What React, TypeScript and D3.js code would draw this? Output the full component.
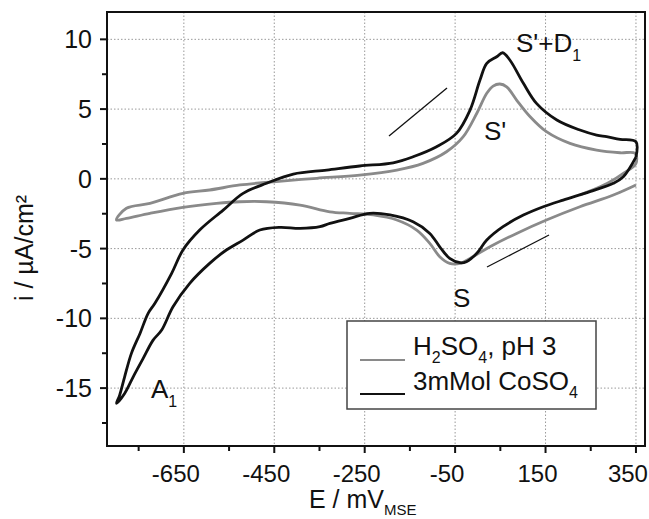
import React from "react";
import * as d3 from "d3";

// 3mMol CoSO4 (black curve)
const cosoE = [350, 322, 300, 248, 189, 145, 101, 56, 20, -2, -25, -39, -62, -84, -106, -143, -194, -239, -283, -327,
  -349, -393, -438, -482, -519, -556, -593, -637, -674, -699, -718, -740, -762, -781, -799,
  -792, -781, -766, -747, -729, -714, -677, -652, -615, -563, -519, -467, -408, -334, -261, -187,
  -143, -91, -47, -17, 5, 20, 42, 55, 71, 101, 130, 175, 226, 263, 285, 315, 350, 350];
const cosoI = [1.56, 0.15, -0.32, -0.92, -1.52, -2.0, -2.6, -3.43, -4.39, -5.34, -5.94, -6.01, -5.7, -4.87, -3.91, -3.08, -2.59, -2.47, -2.83, -3.19,
  -3.43, -3.55, -3.48, -3.67, -4.39, -5.1, -6.06, -7.49, -9.17, -10.84, -11.56, -12.87, -14.19, -15.38, -16.09,
  -15.5, -14.19, -12.51, -11.08, -9.64, -8.92, -6.77, -5.1, -3.67, -2.24, -1.04, -0.32, 0.34, 0.63, 0.92, 1.15,
  1.58, 2.3, 3.26, 4.93, 7.08, 8.28, 8.75, 9.04, 8.52, 6.85, 5.41, 4.22, 3.5, 3.14, 3.02, 2.83, 2.66, 1.56];

// H2SO4, pH 3 (gray curve)
const h2so4E = [350, 300, 226, 152, 86, 27, -17, -39, -62, -84, -106, -135, -179, -231, -283, -327,
  -393, -467, -526, -578, -652, -725, -777, -799,
  -777, -725, -652, -593, -526, -452, -356, -261, -179, -121, -69, -32, -2, 20, 34, 49, 64, 86, 116, 152, 204, 263, 315, 348,
  350, 322, 293, 263, 226];
const h2so4I = [-0.44, -1.16, -2.0, -2.95, -3.91, -4.87, -5.7, -6.06, -6.06, -5.58, -4.62, -3.67, -2.95, -2.59, -2.47, -2.36,
  -1.88, -1.64, -1.64, -1.76, -2.04, -2.47, -2.83, -2.95,
  -2.11, -1.76, -1.04, -0.8, -0.44, -0.21, 0.04, 0.27, 0.63, 1.11, 1.94, 3.02, 4.7, 6.13, 6.65, 6.8, 6.6, 5.65, 4.45, 3.38, 2.54, 2.06, 1.87, 1.83,
  1.11, 0.39, -0.21, -0.68, -1.16];

const xTicks = [-650, -450, -250, -50, 150, 350];
const xMinor = [-750, -550, -350, -150, 50, 250];
const yTicks = [-15, -10, -5, 0, 5, 10];
const yMinor = [-17.5, -12.5, -7.5, -2.5, 2.5, 7.5];

const W = 649, H = 519;
const L = 107, R = 645, T = 12, B = 446;
const FONT = "'Liberation Sans', Arial, Helvetica, sans-serif";

export default function App() {
  const x = d3.scaleLinear().domain([-820, 370]).range([L, R]);
  const y = d3.scaleLinear().domain([-19.15, 11.96]).range([B, T]);
  const line = d3.line<[number, number]>().x(d => x(d[0])).y(d => y(d[1])).curve(d3.curveCatmullRom.alpha(0.5));
  const coso: [number, number][] = cosoE.map((e, i) => [e, cosoI[i]]);
  const h2: [number, number][] = h2so4E.map((e, i) => [e, h2so4I[i]]);

  return (
    <svg width={W} height={H} style={{ position: "absolute", left: 0, top: 0, background: "#fff" }} fontFamily={FONT}>
      <rect x={0} y={0} width={W} height={H} fill="#fff" />
      {/* grid */}
      {xTicks.map(t => (
        <line key={"gx" + t} x1={x(t)} x2={x(t)} y1={T} y2={B} stroke="#999" strokeWidth={1} strokeDasharray="1.5,2" />
      ))}
      {yTicks.map(t => (
        <line key={"gy" + t} x1={L} x2={R} y1={y(t)} y2={y(t)} stroke="#999" strokeWidth={1} strokeDasharray="1.5,2" />
      ))}
      {/* curves */}
      <path d={line(h2) || ""} fill="none" stroke="#8a8a8a" strokeWidth={2.8} strokeLinejoin="round" />
      <path d={line(coso) || ""} fill="none" stroke="#111" strokeWidth={2.8} strokeLinejoin="round" />
      {/* frame */}
      <rect x={L} y={T} width={R - L} height={B - T} fill="none" stroke="#111" strokeWidth={2} />
      {/* x ticks */}
      {xTicks.map(t => (
        <g key={"xt" + t}>
          <line x1={x(t)} x2={x(t)} y1={B} y2={B + 7} stroke="#111" strokeWidth={2} />
          <text x={x(t)} dx={-8} y={482} textAnchor="middle" fontSize={24} fill="#111">{t}</text>
        </g>
      ))}
      {xMinor.map(t => (
        <line key={"xm" + t} x1={x(t)} x2={x(t)} y1={B} y2={B + 5} stroke="#111" strokeWidth={2} />
      ))}
      {/* y ticks */}
      {yTicks.map(t => (
        <g key={"yt" + t}>
          <line x1={L - 7} x2={L} y1={y(t)} y2={y(t)} stroke="#111" strokeWidth={2} />
          <text x={92} y={y(t)} dy="0.36em" textAnchor="end" fontSize={25} fill="#111">{t}</text>
        </g>
      ))}
      {yMinor.map(t => (
        <line key={"ym" + t} x1={L - 5} x2={L} y1={y(t)} y2={y(t)} stroke="#111" strokeWidth={2} />
      ))}
      {/* axis titles */}
      <text transform="translate(33,248) rotate(-90)" textAnchor="middle" fontSize={25} fill="#111">
        i / µA/cm²
      </text>
      <text x={309} y={508} fontSize={25} fill="#111">
        E / mV<tspan fontSize={15} dy={7}>MSE</tspan>
      </text>
      {/* annotations */}
      <text x={516} y={52} fontSize={26} fill="#111">
        S'+D<tspan fontSize={16} dy={9}>1</tspan>
      </text>
      <text x={484} y={140} fontSize={26} fill="#111">S'</text>
      <text x={453} y={307} fontSize={26} fill="#111">S</text>
      <text x={151} y={398} fontSize={26} fill="#111">
        A<tspan fontSize={16} dy={9}>1</tspan>
      </text>
      <line x1={389} y1={136} x2={447} y2={88} stroke="#111" strokeWidth={1.3} />
      <line x1={487} y1={267} x2={549} y2={235} stroke="#111" strokeWidth={1.3} />
      {/* legend */}
      <rect x={347} y={321} width={249} height={88} fill="#fff" stroke="#444" strokeWidth={1.5} />
      <line x1={360} x2={405} y1={360} y2={360} stroke="#8a8a8a" strokeWidth={2} />
      <line x1={360} x2={405} y1={394} y2={394} stroke="#111" strokeWidth={2} />
      <text x={413} y={355} fontSize={26} fill="#111">
        H<tspan fontSize={16} dy={8}>2</tspan><tspan dy={-8}>SO</tspan><tspan fontSize={16} dy={8}>4</tspan><tspan dy={-8}>, pH 3</tspan>
      </text>
      <text x={413} y={390} fontSize={26} fill="#111">
        3mMol CoSO<tspan fontSize={16} dy={8}>4</tspan>
      </text>
    </svg>
  );
}
